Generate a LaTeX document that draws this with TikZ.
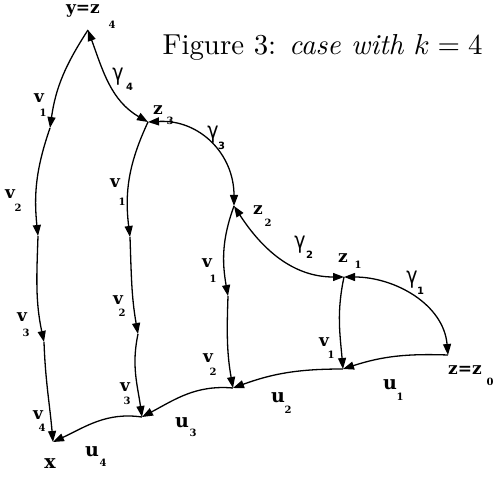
\documentclass[tikz,border=0pt]{standalone}
\usepackage{fontspec}
\usepackage{graphicx}
\newfontfamily\lbfont{DejaVu Serif}
\newfontfamily\gmfont{DejaVu Sans}
\usetikzlibrary{arrows.meta}
\begin{document}
\begin{tikzpicture}[x=1pt,y=1pt,line width=1.3pt,
  >={Triangle[length=11pt,width=8pt]},
  conn/.style={->},
  dconn/.style={<->},
  lb/.style={font=\lbfont\bfseries\fontsize{17}{17}\selectfont,inner sep=0pt},
  lbu/.style={font=\lbfont\bfseries\fontsize{19}{19}\selectfont,inner sep=0pt},
  sb/.style={font=\lbfont\bfseries\fontsize{10}{10}\selectfont,inner sep=0pt},
  gm/.style={font=\gmfont\fontsize{19}{19}\selectfont,inner sep=0pt},
  gs/.style={font=\gmfont\bfseries\fontsize{10}{10}\selectfont,inner sep=0pt}]
\useasboundingbox (0,0) rectangle (495,477);
% vertices
\coordinate (Y) at (88,447);
\coordinate (A1) at (50,349);
\coordinate (A2) at (38,241);
\coordinate (A3) at (44,135);
\coordinate (X) at (53,35);
\coordinate (Z3) at (148,355);
\coordinate (B1) at (130,240);
\coordinate (B2) at (138,143);
\coordinate (U3) at (142,60);
\coordinate (Z2) at (234,271);
\coordinate (C1) at (228,181);
\coordinate (U2) at (233,89);
\coordinate (Z1) at (344,200);
\coordinate (U1) at (343,108);
\coordinate (Z0) at (448,122);
% title
\node[anchor=base west,inner sep=0pt] (title) at (162,422) {\resizebox{320pt}{!}{Figure 3: \textit{case with} $k=4$}};
% left column
\draw[conn] (Y) to[out=237,in=82] (A1);
\draw[conn] (A1) to[out=251,in=96] (A2);
\draw[conn] (A2) to[out=268,in=102] (A3);
\draw[conn] (A3) to[out=272,in=95] (X);
% column 2
\draw[conn] (Z3) to[out=245,in=97] (B1);
\draw[conn] (B1) to[out=272,in=100] (B2);
\draw[conn] (B2) to[out=258,in=98] (U3);
% column 3
\draw[conn] (Z2) to[out=250,in=100] (C1);
\draw[conn] (C1) to[out=268,in=100] (U2);
% column 4
\draw[conn] (Z1) to[out=258,in=95] (U1);
% gammas
\draw[dconn] (Y) to[out=290,in=150] (Z3);
\draw[dconn] (Z3) to[out=3,in=90,looseness=1.1] (Z2);
\draw[dconn] (Z2) to[out=303,in=180] (Z1);
\draw[dconn] (Z1) to[out=0,in=95] (Z0);
% bottom chain
\draw[conn] (Z0) to[out=178,in=18] (U1);
\draw[conn] (U1) to[out=180,in=20] (U2);
\draw[conn] (U2) to[out=175,in=28] (U3);
\draw[conn] (U3) to[out=172,in=25] (X);
% labels
\node[lb] (ly) at (83,466) {y=z};
\node[sb] (lys) at (112,452) {4};
\node[lb] (lv1) at (39,379) {v};
\node[sb] (lv1s) at (43,364) {1};
\node[lb] (lv2) at (10,283) {v};
\node[sb] (lv2s) at (18,269) {2};
\node[lb] (lv3) at (22,160) {v};
\node[sb] (lv3s) at (26,144) {3};
\node[lb] (lv4) at (38,62) {v};
\node[sb] (lv4s) at (42,49) {4};
\node[lbu] (lx) at (50,13) {x};
\node[lb] (lz3) at (158,367) {z};
\node[sb] (lz3s) at (170,356) {3};
\node[gm] (lg4) at (118,400) {\scalebox{1}[1.2]{γ}};
\node[gs] (lg4s) at (129.5,390) {4};
\node[lb] (mv1) at (115,294) {v};
\node[sb] (mv1s) at (122,275) {1};
\node[lb] (mv2) at (118,177) {v};
\node[sb] (mv2s) at (122,164) {2};
\node[lb] (mv3) at (125,90) {v};
\node[sb] (mv3s) at (127,76) {3};
\node[gm] (lg3) at (213,342) {\scalebox{1}[1.2]{γ}};
\node[gs] (lg3s) at (221.5,331) {3};
\node[lb] (lz2) at (258,267) {z};
\node[sb] (lz2s) at (268,254) {2};
\node[lb] (nv1) at (207,214) {v};
\node[sb] (nv1s) at (213,198) {1};
\node[lb] (nv2) at (208,119) {v};
\node[sb] (nv2s) at (213,105) {2};
\node[gm] (lg2) at (300,232) {\scalebox{1}[1.2]{γ}};
\node[gs] (lg2s) at (309.5,222) {2};
\node[lb] (lz1) at (343,219) {z};
\node[sb] (lz1s) at (358,212) {1};
\node[gm] (lg1) at (412,197) {\scalebox{1}[1.2]{γ}};
\node[gs] (lg1s) at (420.5,186) {1};
\node[lb] (pv1) at (324,135) {v};
\node[sb] (pv1s) at (331,122) {1};
\node[lb] (lz0) at (465,107) {z=z};
\node[sb] (lz0s) at (490,95) {0};
\node[lbu] (lu1) at (390,92) {u};
\node[sb] (lu1s) at (400,80) {1};
\node[lbu] (lu2) at (278,79) {u};
\node[sb] (lu2s) at (288,67) {2};
\node[lbu] (lu3) at (182,54) {u};
\node[sb] (lu3s) at (193,44) {3};
\node[lbu] (lu4) at (92,25) {u};
\node[sb] (lu4s) at (103,14) {4};
\end{tikzpicture}
\end{document}
